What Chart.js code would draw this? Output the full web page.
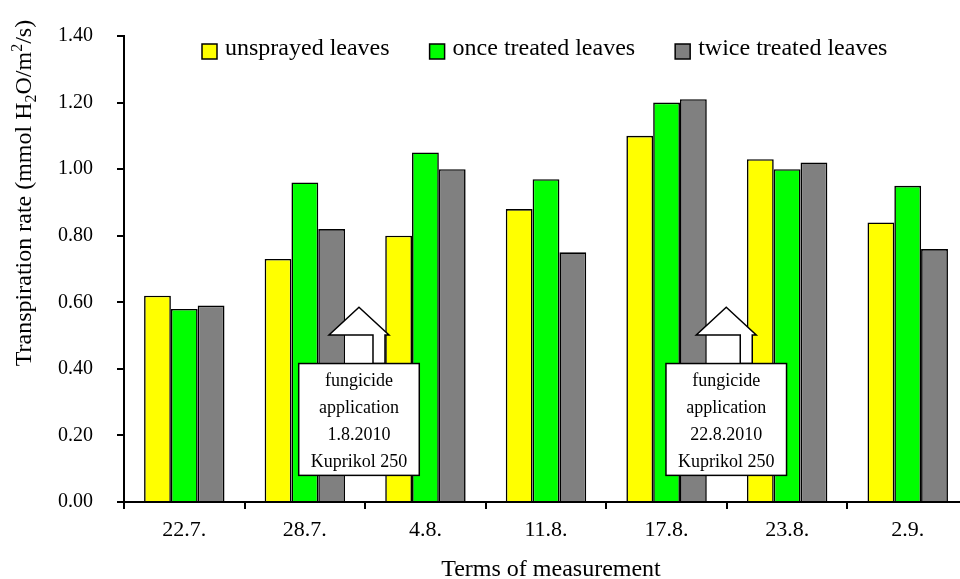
<!DOCTYPE html>
<html>
<head>
<meta charset="utf-8">
<script src="https://cdn.jsdelivr.net/npm/chart.js@4.4.0/dist/chart.umd.min.js"></script>
<style>
  html, body { margin: 0; padding: 0; background: #fff; overflow: hidden; }
  canvas { display: block; }
</style>
</head>
<body>
<canvas id="chart" width="968" height="579"></canvas>
<script>
// data
const categories = ['22.7.', '28.7.', '4.8.', '11.8.', '17.8.', '23.8.', '2.9.'];
const unsprayed = [0.62, 0.73, 0.80, 0.88, 1.10, 1.03, 0.84];
const onceTreated = [0.58, 0.96, 1.05, 0.97, 1.20, 1.00, 0.95];
const twiceTreated = [0.59, 0.82, 1.00, 0.75, 1.21, 1.02, 0.76];
const seriesNames = ['unsprayed leaves', 'once treated leaves', 'twice treated leaves'];
const seriesColors = ['#ffff00', '#00ff00', '#808080'];
const applicationNotes = [
  ['fungicide', 'application', '1.8.2010', 'Kuprikol 250'],
  ['fungicide', 'application', '22.8.2010', 'Kuprikol 250'],
];

const FONT = '"Liberation Serif", "Times New Roman", serif';

// draws axis titles, the legend and the two application callouts
const decorations = {
  id: 'decorations',
  afterDatasetsDraw(chart) {
    const ctx = chart.ctx;
    const x = chart.scales.x;
    const y = chart.scales.y;
    // callouts sit between two groups, positions in category units
    const spots = [1.449, 4.495];
    spots.forEach((pos, i) => {
      const cx = x.getPixelForValue(pos);
      const half = (x.getPixelForValue(1) - x.getPixelForValue(0)) / 2;
      const tipY = y.getPixelForValue(0.585);
      const headY = y.getPixelForValue(0.502);
      const boxTop = y.getPixelForValue(0.416);
      const boxBottom = y.getPixelForValue(0.08);

      ctx.save();
      ctx.lineWidth = 1.5;
      ctx.strokeStyle = '#000';
      ctx.fillStyle = '#fff';
      ctx.beginPath();
      ctx.moveTo(cx, tipY);
      ctx.lineTo(cx + 30, headY);
      ctx.lineTo(cx + 26, headY);
      ctx.lineTo(cx + 26, boxTop);
      ctx.lineTo(cx + 14, boxTop);
      ctx.lineTo(cx + 14, headY);
      ctx.lineTo(cx - 30, headY);
      ctx.closePath();
      ctx.fill();
      ctx.stroke();

      ctx.fillRect(cx - half, boxTop, half * 2, boxBottom - boxTop);
      ctx.strokeRect(cx - half, boxTop, half * 2, boxBottom - boxTop);

      ctx.fillStyle = '#000';
      ctx.font = '18px ' + FONT;
      ctx.textAlign = 'center';
      ctx.textBaseline = 'middle';
      applicationNotes[i].forEach((line, k) => {
        ctx.fillText(line, cx, boxTop + 18 + k * 27);
      });
      ctx.restore();
    });
  },
  afterDraw(chart) {
    const ctx = chart.ctx;
    ctx.save();
    ctx.fillStyle = '#000';

    // x title
    ctx.font = '24px ' + FONT;
    ctx.textAlign = 'center';
    ctx.textBaseline = 'alphabetic';
    ctx.fillText('Terms of measurement', 551, 576);

    // y title with sub/superscript
    const big = '24px ' + FONT;
    const small = '16px ' + FONT;
    const parts = [
      { t: 'Transpiration rate (mmol H', f: big, dy: 0 },
      { t: '2', f: small, dy: 5 },
      { t: 'O/m', f: big, dy: 0 },
      { t: '2', f: small, dy: -9 },
      { t: '/s)', f: big, dy: 0 },
    ];
    let total = 0;
    parts.forEach(p => { ctx.font = p.f; p.w = ctx.measureText(p.t).width; total += p.w; });
    ctx.translate(31, 193);
    ctx.rotate(-Math.PI / 2);
    ctx.textAlign = 'left';
    let px = -total / 2;
    parts.forEach(p => {
      ctx.font = p.f;
      ctx.fillText(p.t, px, p.dy);
      px += p.w;
    });
    ctx.restore();

    // legend inside the plot area
    ctx.save();
    ctx.font = '24px ' + FONT;
    ctx.textBaseline = 'alphabetic';
    ctx.textAlign = 'left';
    let lx = 202;
    chart.data.datasets.forEach(ds => {
      ctx.fillStyle = ds.backgroundColor;
      ctx.fillRect(lx, 44, 15, 15);
      ctx.lineWidth = 1.5;
      ctx.strokeStyle = '#000';
      ctx.strokeRect(lx, 44, 15, 15);
      ctx.fillStyle = '#000';
      ctx.fillText(ds.label, lx + 23, 55);
      lx += 23 + ctx.measureText(ds.label).width + 40;
    });
    ctx.restore();
  },
};

const ctx = document.getElementById('chart').getContext('2d');
new Chart(ctx, {
  type: 'bar',
  data: {
    labels: categories,
    datasets: [unsprayed, onceTreated, twiceTreated].map((values, i) => ({
      label: seriesNames[i],
      data: values,
      backgroundColor: seriesColors[i],
      borderColor: '#000',
      borderWidth: 1.6,
      borderSkipped: 'bottom',
      categoryPercentage: 0.667,
      barPercentage: 1.0,
    })),
  },
  options: {
    responsive: false,
    animation: false,
    devicePixelRatio: 1,
    layout: { padding: { top: 27, right: 0, left: 0, bottom: 0 } },
    plugins: {
      legend: { display: false },
      title: { display: false },
      tooltip: { enabled: false },
    },
    scales: {
      x: {
        afterFit(scale) { scale.height = 77; },
        grid: {
          offset: true,
          drawOnChartArea: false,
          drawTicks: true,
          tickLength: 7,
          color: '#000',
          lineWidth: 2,
        },
        border: { display: true, color: '#000', width: 2 },
        ticks: {
          color: '#000',
          padding: 8,
          maxRotation: 0,
          font: { family: FONT, size: 22 },
        },
      },
      y: {
        min: 0,
        max: 1.4,
        afterFit(scale) { scale.width = 124; },
        grid: {
          drawOnChartArea: false,
          drawTicks: true,
          tickLength: 7,
          color: '#000',
          lineWidth: 2,
        },
        border: { display: true, color: '#000', width: 2 },
        ticks: {
          stepSize: 0.2,
          color: '#000',
          padding: 24,
          font: { family: FONT, size: 20 },
          callback: v => Number(v).toFixed(2),
        },
      },
    },
  },
  plugins: [decorations],
});
</script>
</body>
</html>
